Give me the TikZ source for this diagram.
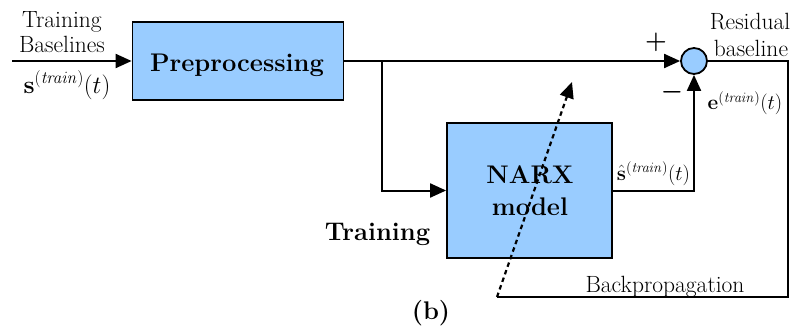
\documentclass[tikz,border=0pt]{standalone}
\usetikzlibrary{arrows.meta}
\definecolor{boxblue}{RGB}{153,204,255}
\begin{document}
\begin{tikzpicture}[x=1pt,y=-1pt,
  blockbox/.style={draw=black, line width=1.8pt, fill=boxblue, inner sep=0pt},
  wire/.style={line width=2pt},
  tip/.style={-{Triangle[length=16pt,width=14pt]}},
  arr/.style={wire, tip},
  lbl/.style={font=\fontsize{23.5}{25}\selectfont, inner sep=0pt, anchor=base},
  mlbl/.style={font=\fontsize{22.5}{25}\selectfont, inner sep=0pt, anchor=base},
  blbl/.style={font=\fontsize{25.5}{30}\selectfont\bfseries, inner sep=0pt, anchor=base},
  sign/.style={font=\fontsize{24}{24}\selectfont\boldmath, inner sep=0pt}]
\useasboundingbox (0,0) rectangle (790,329);

% blocks
\node[blockbox, minimum width=211pt, minimum height=78pt] (pre) at (238,61) {};
\node[blbl] at (237,72) {Preprocessing};
\node[blockbox, minimum width=165pt, minimum height=135pt] (narx) at (529.5,190.5) {};
\node[blbl] at (530,183) {NARX};
\node[blbl] at (530,215) {model};
\node[draw=black, line width=1.8pt, fill=boxblue, circle, minimum size=26pt, inner sep=0pt] (sum) at (694,61) {};

% junction points
\coordinate (in) at (12,61);
\coordinate (split) at (382,61);
\coordinate (narxin) at (split |- narx.west);
\coordinate (outc) at (694,190.5);
\coordinate (rtop) at (788,61);
\coordinate (rbot) at (788,297);
\coordinate (bstart) at (497,297);
\coordinate (btip) at (572,82);

% connectors
\draw[arr] (in) -- (pre.west);
\draw[arr] (pre.east) -- (sum.west);
\draw[arr] (split) -- (narxin) -- (narx.west);
\draw[arr] (narx.east |- outc) -- (outc) -- (sum.south);
\draw[wire] (sum.east) -- (rtop) -- (rbot) -- (bstart);
\draw[line width=2.2pt, dash pattern=on 4.5pt off 3.5pt, tip] (bstart) -- (btip);

% labels
\node[lbl] at (62,28) {Training};
\node[lbl] at (62,53) {Baselines};
\node[font=\fontsize{24}{25}\selectfont, inner sep=0pt, anchor=base] at (67,93) {$\mathbf{s}^{(\mathit{train})}(t)$};
\node[lbl] at (750,30) {Residual};
\node[lbl] at (751,57) {baseline};
\node[mlbl] at (745,110) {$\mathbf{e}^{(\mathit{train})}(t)$};
\node[mlbl] at (653.5,180) {$\hat{\mathbf{s}}^{(\mathit{train})}(t)$};
\node[sign] at (656,42) {$+$};
\node[sign] at (672,92) {$-$};
\node[blbl] at (377.5,240) {Training};
\node[lbl] at (665,292) {Backpropagation};
\node[blbl] at (431,319) {(b)};
\end{tikzpicture}
\end{document}
